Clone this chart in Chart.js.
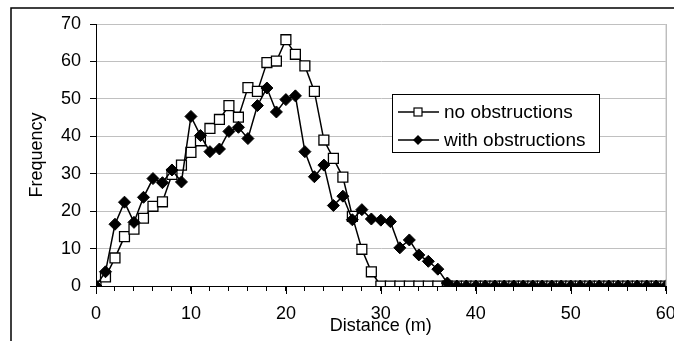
<!DOCTYPE html>
<html>
<head>
<meta charset="utf-8">
<script src="https://cdn.jsdelivr.net/npm/chart.js@4"></script>
<style>
  html, body { margin: 0; padding: 0; background: #fff; }
  #wrap { width: 674px; height: 341px; position: relative; }
</style>
</head>
<body>
<div id="wrap"><canvas id="freqChart"></canvas></div>
<script>
// distance bins (m)
const distances = [0,1,2,3,4,5,6,7,8,9,10,11,12,13,14,15,16,17,18,19,20,
  21,22,23,24,25,26,27,28,29,30,31,32,33,34,35,36,37,38,39,40,
  41,42,43,44,45,46,47,48,49,50,51,52,53,54,55,56,57,58,59,60];

// no obstructions (squares)
const noObstructions = [0,2.4,7.5,13.2,15.2,18.1,21.3,22.5,29.8,32.3,35.7,
  38.8,42.1,44.5,48.2,45.1,53.0,52.0,59.7,60.1,65.8,
  61.9,58.8,52.0,39.0,34.1,29.1,18.6,9.8,3.8,0,
  0,0,0,0,0,0,0,0,0,0,
  0,0,0,0,0,0,0,0,0,0,
  0,0,0,0,0,0,0,0,0,0];

// with obstructions (diamonds)
const withObstructions = [0,3.8,16.5,22.4,17.0,23.7,28.7,27.6,31.0,27.8,45.3,
  40.2,35.9,36.6,41.3,42.4,39.4,48.2,52.9,46.5,49.8,
  50.8,35.9,29.2,32.3,21.5,24.0,17.7,20.4,17.9,17.6,
  17.2,10.2,12.3,8.3,6.6,4.5,0.8,0,0,0,
  0,0,0,0,0,0,0,0,0,0,
  0,0,0,0,0,0,0,0,0,0];

const seriesNames = ['no obstructions', 'with obstructions'];
const yTicks = [0, 10, 20, 30, 40, 50, 60, 70];
const xLabels = [0, 10, 20, 30, 40, 50, 60];

const FONT = 'Liberation Sans, Arial, sans-serif';

function toPoints(ys) {
  return distances.map((d, i) => ({ x: d, y: ys[i] }));
}

// outer frame, plot border, longer major ticks, legend box
const decorPlugin = {
  id: 'decor',
  beforeDraw(chart) {
    const ctx = chart.ctx;
    ctx.save();
    ctx.strokeStyle = '#000';
    ctx.lineWidth = 1.5;
    ctx.strokeRect(11, 8, 700, 400);
    ctx.restore();
  },
  afterDraw(chart) {
    const ctx = chart.ctx;
    const a = chart.chartArea;
    const xs = chart.scales.x;
    ctx.save();
    // right border of plot area
    ctx.strokeStyle = '#a0a0a0';
    ctx.lineWidth = 1;
    ctx.beginPath();
    ctx.moveTo(a.right + 0.5, a.top);
    ctx.lineTo(a.right + 0.5, a.bottom);
    ctx.stroke();
    // major x ticks
    ctx.strokeStyle = '#000';
    xLabels.forEach(v => {
      const px = Math.round(xs.getPixelForValue(v)) + 0.5;
      ctx.beginPath();
      ctx.moveTo(px, a.bottom);
      ctx.lineTo(px, a.bottom + 8);
      ctx.stroke();
    });

    // legend
    const bx = 392, by = 94, bw = 207, bh = 58;
    ctx.fillStyle = '#fff';
    ctx.fillRect(bx, by, bw, bh);
    ctx.strokeStyle = '#000';
    ctx.lineWidth = 1;
    ctx.strokeRect(bx + 0.5, by + 0.5, bw, bh);
    ctx.font = '19px ' + FONT;
    ctx.textBaseline = 'middle';
    const rows = [by + 18, by + 46];
    rows.forEach((yy, i) => {
      ctx.strokeStyle = '#000';
      ctx.lineWidth = 1.5;
      ctx.beginPath();
      ctx.moveTo(398, yy);
      ctx.lineTo(439, yy);
      ctx.stroke();
      if (i === 0) {
        ctx.fillStyle = '#fff';
        ctx.fillRect(414, yy - 4, 8, 8);
        ctx.lineWidth = 1.2;
        ctx.strokeRect(414, yy - 4, 8, 8);
      } else {
        ctx.fillStyle = '#000';
        ctx.beginPath();
        ctx.moveTo(418, yy - 5);
        ctx.lineTo(423, yy);
        ctx.lineTo(418, yy + 5);
        ctx.lineTo(413, yy);
        ctx.closePath();
        ctx.fill();
      }
      ctx.fillStyle = '#000';
      ctx.fillText(seriesNames[i], 444, yy + 1);
    });
    ctx.restore();
  }
};

new Chart(document.getElementById('freqChart'), {
  type: 'line',
  data: {
    datasets: [
      {
        label: seriesNames[0],
        data: toPoints(noObstructions),
        borderColor: '#000',
        borderWidth: 1.5,
        pointStyle: 'rect',
        pointRadius: 7,
        pointBorderWidth: 1.3,
        pointBackgroundColor: '#fff',
        pointBorderColor: '#000',
        tension: 0,
        order: 1
      },
      {
        label: seriesNames[1],
        data: toPoints(withObstructions),
        borderColor: '#000',
        borderWidth: 1.5,
        pointStyle: 'rectRot',
        pointRadius: 6,
        pointBorderWidth: 1,
        pointBackgroundColor: '#000',
        pointBorderColor: '#000',
        tension: 0,
        order: 0
      }
    ]
  },
  options: {
    responsive: true,
    maintainAspectRatio: false,
    animation: false,
    layout: { padding: { top: 24, right: 4, left: 0, bottom: 0 } },
    plugins: {
      legend: { display: false },
      tooltip: { enabled: false }
    },
    scales: {
      x: {
        type: 'linear',
        min: 0,
        max: 60,
        afterFit(scale) {
          scale.height = 55;
          scale.paddingLeft = 0;
          scale.paddingRight = 0;
        },
        border: { color: '#000', width: 1 },
        grid: { drawOnChartArea: false, tickLength: 5, tickColor: '#000' },
        ticks: {
          stepSize: 2,
          autoSkip: false,
          maxRotation: 0,
          padding: 12,
          color: '#000',
          font: { family: FONT, size: 18 },
          callback: v => (xLabels.includes(v) ? String(v) : '')
        },
        title: {
          display: true,
          text: 'Distance (m)',
          color: '#000',
          font: { family: FONT, size: 18 },
          padding: { top: 0, bottom: 4 }
        }
      },
      y: {
        min: 0,
        max: 70,
        afterFit(scale) { scale.width = 96; },
        afterBuildTicks(scale) { scale.ticks = yTicks.map(v => ({ value: v })); },
        border: { color: '#000', width: 1 },
        grid: { color: '#c0c0c0', tickColor: '#000', tickLength: 6 },
        ticks: {
          padding: 9,
          color: '#000',
          font: { family: FONT, size: 18 }
        },
        title: {
          display: true,
          text: 'Frequency',
          color: '#000',
          font: { family: FONT, size: 18 },
          padding: { top: 26, bottom: 0 }
        }
      }
    }
  },
  plugins: [decorPlugin]
});
</script>
</body>
</html>
